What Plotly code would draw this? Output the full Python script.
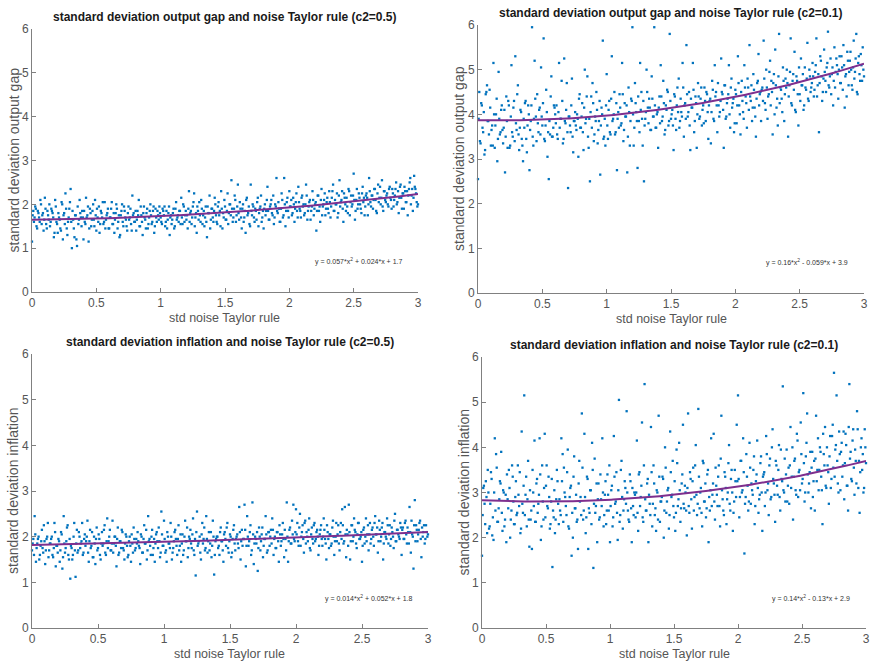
import numpy as np
import plotly.graph_objects as go

# ---- data ----
# first sample set (x runs evenly 0..3)
gap_c05 = [
1.15,1.85,1.7,1.9,1.45,1.8,1.6,2.0,1.75,1.4,2.15,1.55,1.85,1.65,1.5,1.9,1.8,1.25,2.1,1.6,
1.35,1.7,1.45,2.05,1.2,1.8,2.25,1.45,1.6,1.9,2.35,1.0,1.65,1.25,1.75,1.05,1.55,2.1,1.7,1.85,
1.2,1.6,2.15,1.75,1.15,1.9,1.5,1.85,1.65,2.1,1.4,1.7,1.95,1.55,1.8,2.05,1.6,1.45,1.75,1.9,
1.45,1.7,2.05,1.55,1.35,1.8,1.9,1.6,1.25,1.75,2.0,1.5,1.85,1.65,1.4,1.95,1.7,1.55,2.2,1.8,
1.6,1.4,1.85,2.1,1.5,1.75,1.3,1.95,1.65,1.8,1.45,1.7,2.0,1.55,1.85,1.35,1.9,1.6,1.75,1.95,
1.7,1.55,1.85,1.95,1.6,1.45,1.8,1.3,1.75,1.65,1.9,1.5,2.05,1.7,1.6,1.85,2.15,1.55,1.95,1.75,
1.65,1.45,2.3,1.8,1.55,1.95,2.25,1.7,1.35,1.85,2.05,1.6,1.9,1.75,1.5,1.95,1.25,1.8,2.2,1.65,
1.9,1.6,2.15,1.75,1.55,2.05,1.85,2.3,1.45,1.7,1.95,1.65,2.25,1.8,2.0,2.55,1.6,1.9,2.1,1.75,
2.45,1.65,1.9,1.45,2.0,1.7,1.35,2.15,1.8,1.55,2.45,1.75,1.95,1.6,1.85,2.05,1.5,1.9,2.2,1.7,
1.45,2.0,1.85,2.4,1.65,1.95,2.1,1.75,1.55,2.0,2.6,1.8,1.9,1.6,2.25,1.7,2.6,1.5,2.05,1.85,
2.3,1.95,1.75,2.15,1.6,2.05,1.85,2.4,1.9,1.7,2.2,2.0,1.8,2.45,1.65,1.95,2.1,1.85,2.3,1.75,
2.0,1.4,2.2,1.85,1.6,2.35,1.95,2.1,1.75,2.05,1.9,2.3,1.7,2.15,2.45,1.85,2.0,2.25,1.8,2.55,
2.05,2.3,1.6,2.15,1.85,1.95,2.35,1.75,2.2,2.0,2.7,1.65,2.1,1.9,2.25,2.0,1.8,2.4,2.15,1.95,
2.25,1.75,2.6,2.05,2.2,1.9,2.35,2.1,1.8,2.45,2.15,2.0,2.55,1.85,2.3,2.05,2.25,1.95,2.4,2.1,
2.35,1.95,2.2,2.5,2.05,1.8,2.4,2.15,2.25,1.9,2.3,2.05,1.75,2.35,2.6,2.2,1.85,2.65,2.35,2.05,
2.0]
# second sample set (x runs evenly between the first set's points)
gap_c05_b = [
1.75,1.6,1.95,1.5,1.85,1.7,2.1,1.55,1.8,1.65,1.9,1.45,1.75,2.0,1.6,1.85,1.7,1.35,1.95,1.55,
1.8,1.65,1.4,2.0,1.75,1.55,1.9,1.3,1.7,2.05,1.6,1.85,1.45,1.75,1.2,1.95,1.65,1.8,1.5,1.7,
1.85,1.55,1.7,1.95,1.45,1.8,1.65,2.0,1.5,1.75,1.9,1.6,1.35,1.85,1.7,1.55,2.05,1.65,1.8,1.45,
1.7,1.9,1.55,1.8,1.65,2.0,1.45,1.75,1.3,1.85,1.6,1.95,1.7,1.5,1.8,1.65,1.9,1.4,1.75,1.6,
1.85,1.65,1.75,1.5,1.95,1.6,1.8,1.7,1.45,1.9,1.55,1.85,1.75,1.6,1.95,1.5,1.7,1.85,1.65,1.8,
1.6,1.9,1.75,1.5,1.85,1.65,1.95,1.7,1.55,1.8,1.45,1.9,1.65,1.75,1.85,1.55,1.7,2.0,1.6,1.85,
1.75,1.9,1.6,1.85,1.7,2.05,1.5,1.8,1.95,1.65,1.75,2.1,1.55,1.85,1.7,1.6,1.95,1.8,1.45,1.9,
1.7,1.85,2.0,1.6,1.95,1.75,1.5,1.9,1.8,2.1,1.65,1.85,1.55,2.0,1.75,1.9,1.7,2.2,1.6,1.95,
1.8,2.05,1.7,1.9,1.6,1.85,2.1,1.75,1.95,1.5,1.85,2.0,1.7,1.9,1.65,2.15,1.8,1.95,1.6,1.85,
1.9,1.75,2.1,1.85,1.65,2.0,1.8,2.2,1.7,1.95,1.85,2.05,1.6,1.9,2.1,1.75,2.0,1.85,2.15,1.7,
1.95,2.1,1.8,2.0,1.9,2.25,1.7,2.05,1.85,2.15,1.95,1.75,2.0,2.2,1.85,2.05,1.65,1.95,2.1,1.9,
2.05,1.85,2.2,1.95,2.1,1.75,2.0,2.25,1.9,2.15,1.8,2.05,1.95,2.3,1.85,2.1,2.0,1.7,2.2,1.95,
2.1,1.9,2.25,2.0,2.15,1.8,2.3,2.05,1.95,2.2,2.1,1.85,2.35,2.0,2.15,1.9,2.25,2.05,1.75,2.2,
2.15,2.0,2.3,1.95,2.2,2.1,2.35,1.85,2.25,2.05,2.4,2.15,1.95,2.3,2.1,2.2,2.0,2.35,2.15,1.9,
2.25,2.1,2.35,2.0,2.3,2.15,2.45,1.9,2.25,2.4,2.05,2.3,2.2,2.5,2.0,2.35,2.15,2.4,2.25,1.95]

gap_c01 = [
2.55,4.5,3.35,4.2,3.6,3.1,4.45,4.65,3.85,4.55,3.3,3.75,5.15,3.25,4.0,2.95,4.95,3.55,4.1,3.65,
3.7,2.7,4.4,3.25,4.2,3.3,5.1,3.5,4.3,5.3,3.65,4.65,3.2,4.1,3.45,2.95,3.7,4.3,3.15,4.2,
2.75,3.85,5.95,3.3,5.2,3.95,4.45,3.6,4.15,5.05,3.75,5.7,3.4,4.55,3.05,2.55,3.55,4.85,3.5,4.2,
4.0,4.2,3.45,5.15,3.9,4.75,3.35,5.25,3.8,4.7,2.35,3.95,3.6,4.8,3.15,3.85,3.75,4.0,3.05,4.45,
3.7,4.25,3.2,5.0,3.9,4.85,3.25,2.5,4.4,4.7,3.4,3.95,4.5,3.35,3.85,2.65,4.15,5.65,3.5,3.3,
4.9,3.45,4.3,3.55,5.3,3.9,4.5,3.6,2.75,4.05,4.45,3.75,5.15,3.4,4.25,3.95,2.7,4.6,3.3,4.35,
5.95,3.3,4.7,4.05,2.8,3.85,5.15,4.5,3.3,2.5,3.9,5.0,4.15,4.35,3.65,4.85,3.95,5.95,3.7,4.0,
3.25,4.4,5.1,3.85,4.75,3.55,4.2,4.55,3.75,5.8,3.9,4.1,3.2,4.4,3.65,4.6,4.8,3.85,4.05,5.15,
3.5,4.25,5.55,3.95,4.5,3.2,4.15,5.15,3.6,4.4,3.25,4.7,3.9,4.35,3.75,4.2,4.6,3.85,4.45,3.45,
4.3,3.35,4.75,3.9,5.1,4.5,3.6,4.2,4.05,5.25,4.45,3.25,4.65,3.95,4.35,5.1,3.7,4.8,4.25,3.6,
4.55,3.8,5.3,4.2,3.55,4.75,4.05,5.1,4.4,3.7,4.6,5.55,4.3,3.85,4.9,4.15,3.5,4.7,5.35,4.45,
3.85,4.6,5.65,4.25,5.0,3.9,4.45,5.2,4.75,3.55,4.9,5.45,4.15,3.75,5.8,4.6,4.35,5.05,3.85,4.8,
5.0,3.5,4.65,5.7,4.2,4.9,5.4,4.05,4.75,3.75,4.45,5.25,4.65,4.1,5.05,4.55,5.6,4.3,4.85,4.6,
5.15,4.4,4.95,5.7,4.65,3.6,5.3,4.85,4.5,5.45,4.75,5.05,5.85,4.6,5.25,4.9,4.2,5.5,4.95,5.1,
4.35,5.3,4.7,5.05,5.55,4.15,4.9,5.4,4.65,5.2,5.0,4.55,5.65,4.95,5.8,4.45,5.3,4.75,5.1,5.5,
4.85]
gap_c01_b = [
3.9,3.4,4.25,3.7,4.05,3.2,4.5,3.85,3.55,4.15,3.65,3.3,4.0,3.75,4.35,3.45,3.9,3.6,4.2,3.35,
4.1,3.5,3.85,4.3,3.25,3.95,3.6,4.15,3.4,3.8,4.45,3.55,3.7,4.05,3.3,3.9,4.25,3.45,3.75,4.0,
3.65,4.2,3.5,3.9,4.35,3.4,3.8,4.1,3.55,3.95,4.25,3.45,3.75,4.05,3.6,3.85,4.4,3.5,3.7,4.15,
3.8,3.55,4.05,3.7,3.9,4.3,3.45,3.85,4.1,3.6,3.95,3.75,4.2,3.5,3.85,4.05,3.65,3.9,4.35,3.7,
3.95,3.6,4.15,3.8,4.4,3.5,3.9,4.05,3.7,4.25,3.55,3.85,4.1,3.65,4.3,3.75,4.0,3.45,3.9,4.2,
3.75,4.1,3.6,4.35,3.85,4.0,3.55,4.25,3.9,3.7,4.15,3.8,4.45,3.65,3.95,4.2,3.5,4.05,3.85,4.3,
4.0,3.7,4.25,3.85,4.4,3.6,4.1,3.9,4.3,3.75,4.05,4.5,3.8,4.15,3.65,4.35,3.95,4.2,3.7,4.05,
4.15,3.8,4.4,3.95,4.25,3.65,4.1,4.5,3.85,4.3,4.0,3.75,4.45,3.9,4.2,4.05,3.7,4.35,3.95,4.6,
4.2,3.9,4.45,4.05,3.75,4.35,4.15,4.55,3.85,4.25,4.0,4.4,3.95,4.6,4.1,3.8,4.3,4.5,4.05,4.2,
4.35,4.05,4.55,3.85,4.4,4.2,4.7,3.95,4.3,4.5,4.1,4.65,3.9,4.25,4.45,4.0,4.6,4.15,4.35,3.8,
4.45,4.2,4.7,4.0,4.5,4.3,3.9,4.6,4.25,4.8,4.1,4.4,4.65,4.15,4.55,3.95,4.35,4.75,4.2,4.5,
4.55,4.3,4.8,4.1,4.6,4.4,4.95,4.2,4.5,4.7,4.0,4.65,4.35,4.85,4.25,4.55,4.05,4.75,4.45,4.6,
4.7,4.4,4.95,4.25,4.75,4.55,4.1,4.85,4.45,5.05,4.3,4.65,4.9,4.2,4.6,4.8,4.35,5.0,4.5,4.7,
4.85,4.55,5.1,4.4,4.9,4.7,5.2,4.3,4.8,4.95,4.5,5.15,4.65,4.85,4.45,5.05,4.75,4.6,5.25,4.9,
5.0,4.7,5.3,4.55,5.1,4.85,4.4,5.2,4.95,5.4,4.65,5.05,4.8,5.25,4.5,5.15,4.9,5.35,4.75,5.0]

infl_c05 = [
1.7,1.95,2.45,1.45,1.85,2.0,1.6,1.9,1.75,2.25,1.4,1.95,2.3,1.7,1.85,2.0,1.55,2.3,1.35,1.8,
1.95,1.45,2.1,1.3,2.45,1.65,1.9,2.25,1.5,1.08,1.75,1.6,2.3,1.12,2.15,1.7,2.0,1.85,2.3,1.65,
2.05,1.9,2.35,1.45,2.15,1.8,1.55,2.0,1.4,2.2,1.75,1.95,1.5,2.1,1.85,2.25,1.6,2.4,1.9,2.15,
1.7,2.35,1.85,2.0,1.35,2.2,1.65,1.9,2.15,1.75,1.5,2.05,1.8,1.6,2.0,1.45,1.85,2.2,1.7,1.95,
2.1,1.8,1.4,2.0,1.65,2.25,1.85,1.5,2.45,1.95,1.6,2.15,1.75,1.45,2.05,1.9,2.2,1.55,2.55,1.8,
2.35,1.65,1.45,2.0,1.85,2.3,1.5,1.75,2.1,1.95,1.6,2.25,1.8,1.45,2.05,1.7,2.35,1.9,1.55,2.0,
2.15,1.75,2.4,1.6,1.15,2.55,1.85,2.0,1.5,2.3,1.95,1.7,2.45,1.65,2.1,1.85,1.55,2.35,1.17,1.9,
2.0,1.75,1.6,2.2,1.9,1.45,2.1,1.8,2.3,1.65,2.05,1.55,1.95,2.25,1.7,2.0,1.85,2.65,1.5,2.15,
1.95,2.7,1.35,2.45,1.8,2.1,1.6,2.75,1.4,2.0,1.85,1.25,2.2,1.7,2.05,1.55,1.95,2.45,1.65,2.1,
1.8,2.15,2.4,1.6,2.0,1.75,2.1,1.45,2.05,1.9,2.3,1.55,1.95,2.75,1.45,2.15,1.85,2.35,2.7,1.9,
2.6,2.3,1.8,2.5,2.0,2.25,1.65,2.35,2.1,1.9,2.4,1.7,2.2,1.85,2.3,1.95,2.15,1.6,2.05,2.25,
1.8,2.4,1.95,1.5,2.1,1.75,2.05,1.85,2.35,1.6,2.0,1.9,2.25,1.7,2.3,2.6,1.85,2.65,1.55,2.05,
2.7,1.5,2.25,1.9,2.4,2.1,1.75,2.3,1.95,2.0,1.45,2.15,1.85,2.4,2.05,1.7,2.3,1.95,2.2,1.8,
2.45,2.05,1.65,2.35,1.9,2.2,1.5,2.1,2.0,2.4,1.85,2.25,1.95,2.1,1.75,2.5,1.9,2.15,2.0,2.3,
1.6,2.2,1.95,2.35,1.85,2.1,2.65,1.65,2.05,1.3,2.8,2.25,1.9,2.15,2.35,1.55,2.0,2.25,1.95,2.1,
2.05]
infl_c05_b = [
1.85,1.6,2.05,1.75,1.95,1.5,1.8,2.15,1.65,1.9,1.7,2.0,1.55,1.85,1.95,1.6,1.75,2.1,1.8,1.65,
1.9,1.7,2.05,1.55,1.85,1.75,2.2,1.6,1.95,1.8,1.5,2.0,1.7,1.85,1.65,2.1,1.75,1.9,1.6,1.95,
1.8,2.0,1.65,1.9,1.75,2.1,1.55,1.85,1.95,1.7,2.05,1.6,1.85,1.8,2.15,1.65,1.9,1.75,2.0,1.7,
1.85,1.65,2.0,1.8,1.95,1.6,1.9,1.75,2.1,1.7,1.85,2.0,1.55,1.9,1.8,2.05,1.65,1.95,1.75,1.85,
1.9,1.75,2.05,1.65,1.95,1.85,2.15,1.7,1.9,1.8,2.0,1.6,1.95,1.85,2.1,1.75,1.9,1.65,2.05,1.8,
1.95,1.7,2.1,1.85,1.75,2.0,1.65,1.9,2.15,1.8,1.95,1.7,2.05,1.85,1.6,2.0,1.9,2.2,1.75,1.95,
1.85,2.05,1.7,1.95,2.1,1.8,1.9,1.65,2.05,1.85,2.2,1.75,1.95,1.9,1.7,2.1,1.8,2.0,1.6,1.95,
2.0,1.8,2.1,1.9,1.7,2.05,1.95,2.2,1.75,1.9,2.0,1.65,2.15,1.85,1.95,2.05,1.75,2.1,1.9,1.8,
1.95,2.15,1.8,2.0,1.9,2.25,1.7,2.05,1.85,1.95,2.1,1.75,2.0,1.9,2.2,1.8,1.95,2.05,1.7,2.1,
2.0,1.85,2.15,1.95,1.75,2.1,1.9,2.25,1.8,2.05,1.95,2.15,1.7,2.0,1.9,2.2,1.85,2.05,1.95,2.1,
2.05,1.9,2.2,1.8,2.1,1.95,2.3,1.85,2.0,2.15,1.75,2.05,1.95,2.25,1.9,2.1,2.0,1.8,2.15,1.95,
2.0,2.15,1.85,2.25,1.95,2.05,1.8,2.2,2.0,1.9,2.3,2.05,1.85,2.1,1.95,2.25,1.9,2.05,2.15,1.8,
2.1,1.9,2.25,2.0,2.15,1.85,2.05,2.3,1.95,2.1,1.8,2.2,2.0,1.9,2.25,2.05,1.85,2.15,2.0,2.3,
2.05,2.2,1.9,2.15,2.0,2.3,1.85,2.1,1.95,2.25,2.05,1.8,2.2,2.0,2.35,1.9,2.15,2.05,1.95,2.2,
2.15,1.95,2.3,2.05,2.2,1.85,2.1,2.35,2.0,2.25,1.9,2.15,2.05,2.3,1.95,2.2,2.1,1.85,2.25,2.0]

infl_c01 = [
1.6,3.1,2.75,3.25,2.1,3.0,2.25,3.45,2.05,1.95,4.2,3.85,2.35,2.65,3.25,3.9,2.15,3.0,2.4,1.9,
2.85,3.5,2.0,2.6,3.35,2.3,2.9,2.5,3.6,2.7,2.1,4.35,2.55,5.15,2.95,2.25,3.7,1.8,2.4,1.75,
3.0,4.15,2.35,3.3,2.75,4.2,1.95,3.6,2.4,4.3,3.15,2.7,3.35,2.2,2.8,1.35,2.45,2.1,2.85,3.25,
2.3,2.6,4.2,3.85,3.55,2.9,2.5,3.95,2.2,3.1,1.6,2.0,3.8,2.65,2.35,1.75,3.7,2.9,4.75,2.4,
4.3,2.1,3.35,1.75,2.55,3.05,4.1,1.33,3.75,2.7,1.9,3.2,2.45,2.85,4.2,2.25,2.95,2.3,3.4,2.6,
1.9,3.05,2.25,4.25,2.75,3.45,1.95,5.05,2.5,3.7,2.2,2.85,3.1,4.8,2.6,2.35,3.25,1.9,2.7,3.0,
2.45,4.15,2.15,3.45,2.9,4.55,2.35,5.4,2.6,3.2,1.9,2.75,4.45,2.25,3.6,2.5,2.15,3.0,4.7,2.35,
2.8,3.35,2.0,4.0,2.55,3.05,2.2,4.35,2.9,3.7,2.45,2.15,3.95,2.7,4.1,2.35,3.2,4.5,2.65,3.0,
2.05,4.75,2.55,3.3,2.2,3.55,2.9,4.05,2.5,4.85,2.65,3.1,2.25,3.65,2.8,2.45,3.4,1.9,2.6,4.2,
2.95,4.3,2.4,3.15,2.7,3.6,2.25,4.7,2.85,2.5,3.35,2.3,3.0,4.05,2.6,3.5,2.15,2.8,3.25,4.5,
5.15,2.45,3.7,3.0,4.2,1.65,2.9,3.35,2.6,4.1,2.75,3.05,3.5,2.3,3.25,4.15,2.55,2.95,3.8,2.15,
3.4,2.7,4.25,3.05,2.5,3.75,2.9,4.4,3.2,2.35,3.6,2.95,4.05,2.6,3.3,5.35,3.0,2.8,3.95,3.15,
2.75,4.45,3.35,2.4,3.7,3.05,4.3,2.9,3.5,4.55,3.2,5.2,2.8,3.8,4.75,3.0,3.45,2.65,3.9,3.25,
2.6,4.7,3.5,3.05,4.0,3.35,2.3,3.85,4.45,3.1,3.6,2.75,4.25,3.3,4.5,5.65,3.95,5.15,3.2,4.35,
3.05,4.1,3.6,2.85,4.3,3.15,2.6,5.4,3.9,3.25,4.4,2.95,3.7,4.8,3.1,2.55,4.0,3.5,3.0,4.4,
3.65]
infl_c01_b = [
2.5,3.15,2.3,2.9,3.5,2.2,2.75,3.3,2.45,3.0,2.6,3.55,2.35,2.85,3.2,2.55,3.05,2.25,2.95,3.4,
2.65,3.1,2.4,3.6,2.8,2.3,3.25,2.55,2.95,3.45,2.2,2.75,3.15,2.5,3.35,2.85,2.4,3.05,2.6,3.5,
2.7,2.35,3.2,2.55,2.95,3.4,2.25,2.8,3.1,2.45,3.6,2.65,2.9,2.3,3.3,2.6,3.05,2.4,3.5,2.75,
2.85,2.5,3.25,2.35,3.0,2.7,3.45,2.25,2.9,3.15,2.55,3.35,2.65,2.95,2.4,3.2,2.8,2.5,3.55,2.6,
2.9,2.45,3.3,2.65,3.05,2.3,3.5,2.75,2.55,3.2,2.85,2.4,3.4,2.7,3.0,2.5,3.25,2.6,2.95,3.6,
2.7,3.15,2.45,3.35,2.8,2.55,3.05,2.35,3.5,2.9,2.6,3.25,2.75,3.0,2.4,3.4,2.65,3.1,2.5,2.95,
3.0,2.55,3.4,2.7,3.15,2.45,3.6,2.85,2.6,3.3,2.95,2.5,3.45,2.75,3.2,2.65,3.05,2.4,3.35,2.8,
2.9,3.3,2.6,3.55,2.8,3.1,2.5,3.45,2.95,2.7,3.25,2.55,3.65,2.85,3.05,2.65,3.4,2.75,3.15,2.6,
3.1,2.7,3.45,2.85,3.25,2.6,3.6,2.95,2.75,3.35,3.0,2.55,3.7,2.8,3.2,2.65,3.5,2.9,3.05,2.7,
3.2,2.8,3.55,2.95,3.35,2.7,3.75,3.05,2.6,3.45,3.1,2.85,3.65,2.75,3.3,3.0,2.55,3.5,2.9,3.25,
3.3,2.9,3.7,3.05,3.45,2.75,3.85,3.15,2.8,3.55,3.2,2.95,3.8,2.7,3.4,3.1,2.85,3.65,3.0,3.35,
3.45,3.0,3.85,3.2,3.6,2.85,4.0,3.3,2.95,3.7,3.15,3.5,2.9,3.95,3.25,3.05,3.75,3.4,2.8,3.55,
3.6,3.1,4.0,3.35,3.75,2.95,4.15,3.45,3.05,3.85,3.3,3.65,3.0,4.1,3.4,3.2,3.9,3.55,2.9,3.7,
3.75,3.25,4.2,3.5,3.9,3.05,4.3,3.6,3.15,4.0,3.45,3.8,3.1,4.25,3.55,3.35,4.05,3.7,3.0,3.85,
3.9,3.35,4.35,3.65,4.05,3.15,4.45,3.75,3.3,4.15,3.55,3.95,3.2,4.4,3.7,3.45,4.2,3.85,3.1,4.0]

# fitted quadratic coefficients (as printed on the chart)
fit_gap_c05 = [0.057, 0.024, 1.65]
fit_gap_c01 = [0.16, -0.059, 3.87]
fit_infl_c05 = [0.014, 0.052, 1.82]
fit_infl_c01 = [0.14, -0.13, 2.83]

fit_labels = ["y = 0.057*x<sup>2</sup> + 0.024*x + 1.7",
              "y = 0.16*x<sup>2</sup> - 0.059*x + 3.9",
              "y = 0.014*x<sup>2</sup> + 0.052*x + 1.8",
              "y = 0.14*x<sup>2</sup> - 0.13*x + 2.9"]
titles = ["standard deviation output gap and noise Taylor rule (c2=0.5)",
          "standard deviation output gap and noise Taylor rule (c2=0.1)",
          "standard deviation inflation and noise Taylor rule (c2=0.5)",
          "standard deviation inflation and noise Taylor rule (c2=0.1)"]
ylabels = ["standard deviation output gap", "standard deviation output gap",
           "standard deviation inflation", "standard deviation inflation"]
xlabel = "std noise Taylor rule"
x_ticks = [0, 0.5, 1, 1.5, 2, 2.5, 3]
x_tick_text = ["0", "0.5", "1", "1.5", "2", "2.5", "3"]
y_ticks = [0, 1, 2, 3, 4, 5, 6]

series = [(gap_c05, gap_c05_b), (gap_c01, gap_c01_b),
          (infl_c05, infl_c05_b), (infl_c01, infl_c01_b)]
fits = [fit_gap_c05, fit_gap_c01, fit_infl_c05, fit_infl_c01]

W, H = 871, 663
# pixel boxes of each axes: (left, right, top, bottom)
boxes = [(32, 418, 29, 292), (478, 864, 25, 293), (32, 428, 354, 628), (482, 866, 357, 628)]

FONT = "Liberation Sans Narrow, Arial Narrow, Liberation Sans, Arial"
AX = "#808080"
TXT = "#555555"

fig = go.Figure()
for i, ((ya_vals, yb_vals), cf) in enumerate(zip(series, fits)):
    xa = "x" if i == 0 else f"x{i+1}"
    ya = "y" if i == 0 else f"y{i+1}"
    step = 3.0 / (len(ya_vals) - 1)
    xs_a = np.linspace(0, 3, len(ya_vals))
    xs_b = np.linspace(step / 2, 3 - step / 2, len(yb_vals))
    xs = np.concatenate([xs_a, xs_b])
    ys = list(ya_vals) + list(yb_vals)
    fig.add_trace(go.Scatter(x=xs, y=ys, mode="markers", xaxis=xa, yaxis=ya,
                             marker=dict(symbol="square", size=2.3, color="#0072BD",
                                         line=dict(width=0)),
                             showlegend=False, hoverinfo="skip", cliponaxis=False))
    xf = np.linspace(0, 3, 200)
    yf = np.polyval(cf, xf)
    fig.add_trace(go.Scatter(x=xf, y=yf, mode="lines", xaxis=xa, yaxis=ya,
                             line=dict(color="#7E2F8E", width=2),
                             showlegend=False, hoverinfo="skip"))

layout = dict(width=W, height=H, margin=dict(l=0, r=0, t=0, b=0, autoexpand=False),
              paper_bgcolor="white", plot_bgcolor="white",
              font=dict(family=FONT, color=TXT))
annotations = []
for i, (l, r, t, b) in enumerate(boxes):
    k = "" if i == 0 else str(i + 1)
    common = dict(showline=True, linecolor=AX, linewidth=1, ticks="inside", ticklen=4,
                  tickcolor=AX, showgrid=False, zeroline=False, mirror=False,
                  automargin=False, ticklabeloverflow="allow",
                  tickfont=dict(size=12, color=TXT, family=FONT))
    layout["xaxis" + k] = dict(domain=[l / W, r / W], range=[0, 3], anchor="y" + k,
                               tickvals=x_ticks, ticktext=x_tick_text, **common)
    layout["yaxis" + k] = dict(domain=[1 - b / H, 1 - t / H], range=[0, 6], anchor="x" + k,
                               tickvals=y_ticks, **common)
    cx = (l + r) / 2
    annotations.append(dict(text="<b>" + titles[i] + "</b>", x=cx / W, y=1 - (t - 12) / H,
                            xref="paper", yref="paper", showarrow=False,
                            xanchor="center", yanchor="middle",
                            font=dict(size=12, color="#1a1a1a", family=FONT)))
    annotations.append(dict(text=xlabel, x=cx / W, y=1 - (b + 26) / H,
                            xref="paper", yref="paper", showarrow=False,
                            xanchor="center", yanchor="middle",
                            font=dict(size=12.5, color=TXT, family=FONT)))
    annotations.append(dict(text=ylabels[i], x=(l - 19) / W, y=1 - ((t + b) / 2) / H,
                            xref="paper", yref="paper", showarrow=False, textangle=-90,
                            xanchor="center", yanchor="middle",
                            font=dict(size=14, color=TXT, family=FONT)))
    annotations.append(dict(text=fit_labels[i], x=(r - 14) / W, y=1 - (b - 30) / H,
                            xref="paper", yref="paper", showarrow=False,
                            xanchor="right", yanchor="middle",
                            font=dict(size=7, color="#333333", family=FONT)))
layout["annotations"] = annotations
fig.update_layout(**layout)
fig.write_html("out.html", config={"displayModeBar": False},
               post_script="document.body.style.margin='0';")
